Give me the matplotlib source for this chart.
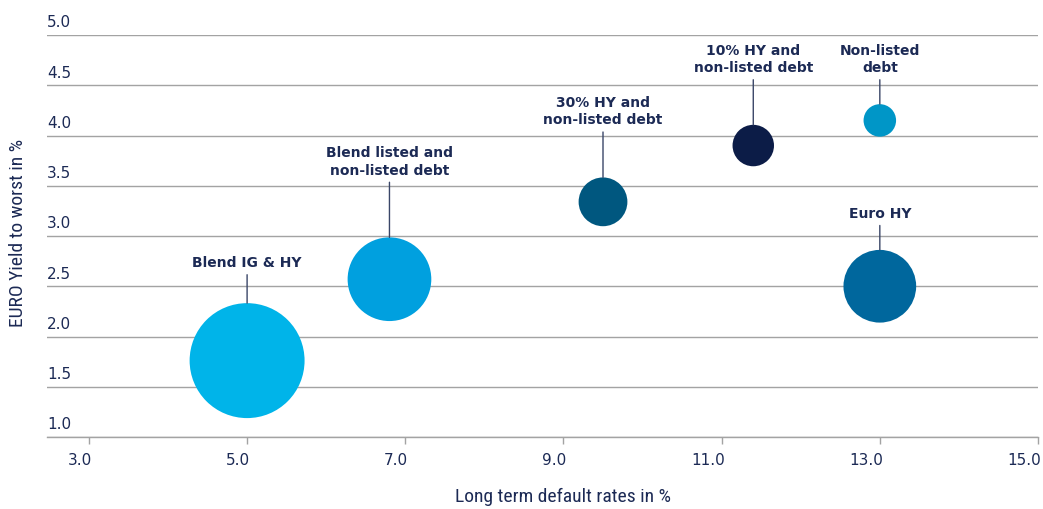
import matplotlib
matplotlib.use("Agg")
import matplotlib.pyplot as plt
from matplotlib.transforms import ScaledTranslation

# ---- data ----
names = ["Blend IG & HY", "Blend listed and\nnon-listed debt", "30% HY and\nnon-listed debt",
         "10% HY and\nnon-listed debt", "Non-listed\ndebt", "Euro HY"]
default_rate = [5.0, 6.8, 9.5, 11.4, 13.0, 13.0]
yield_to_worst = [1.76, 2.57, 3.34, 3.90, 4.15, 2.50]
bubble_weight = [100, 53, 18, 13, 8, 40]
label_y = [2.67, 3.59, 4.09, 4.61, 4.61, 3.16]
colors = ["#00b4e9", "#00a0df", "#00577f", "#0c1c47", "#0096c7", "#00679d"]
x_ticks = [3.0, 5.0, 7.0, 9.0, 11.0, 13.0, 15.0]
y_ticks = [1.0, 1.5, 2.0, 2.5, 3.0, 3.5, 4.0, 4.5, 5.0]

navy = "#1c2a55"
grid = "#a3a3a3"
size_scale = 68.5

fig = plt.figure(figsize=(10.43, 5.10), dpi=100)
ax = fig.add_axes([47/1043, 1 - 438/510, (1038-47)/1043, (438-36)/510])
ax.set_xlim(2.47, 15.0)
ax.set_ylim(1.0, 5.0)

for yv in y_ticks:
    ax.axhline(yv, color=grid, lw=1.0, zorder=0)
    ax.annotate(f"{yv:.1f}", (0, yv), xycoords=("axes fraction", "data"),
                xytext=(0, 4), textcoords="offset points", ha="left", va="bottom",
                fontsize=11, color=navy)

sizes = [w * size_scale for w in bubble_weight]
ax.scatter(default_rate, yield_to_worst, s=sizes, c=colors, linewidths=0, zorder=3)

for nm, xv, yv, ly, s in zip(names, default_rate, yield_to_worst, label_y, sizes):
    r_pt = (s ** 0.5) / 2
    ax.annotate(nm, xy=(xv, yv), xytext=(xv, ly), ha="center", va="bottom",
                fontsize=10, fontweight="bold", color=navy, linespacing=1.3,
                arrowprops=dict(arrowstyle="-", color="#3a4668", lw=1.0,
                                shrinkA=2, shrinkB=r_pt, relpos=(0.5, 0.0)),
                zorder=4)

for sp in ["top", "right", "left"]:
    ax.spines[sp].set_visible(False)
ax.spines["bottom"].set_color(grid)
ax.spines["bottom"].set_linewidth(1.0)
ax.set_yticks([])
ax.set_xticks(x_ticks)
ax.set_xticklabels([f"{t:.1f}" for t in x_ticks])
ax.tick_params(axis="x", colors=grid, length=5, width=1, labelcolor=navy,
               labelsize=11, pad=6)
shift = ScaledTranslation(3/100, 0, fig.dpi_scale_trans)
for lab in ax.get_xticklabels():
    lab.set_horizontalalignment("right")
    lab.set_transform(lab.get_transform() + shift)

cond = ["Roboto Condensed", "DejaVu Sans Condensed", "Liberation Sans Narrow", "Roboto", "DejaVu Sans"]
ax.set_xlabel("Long term default rates in %", fontsize=14, color=navy, family=cond,
              stretch="condensed")
ax.xaxis.set_label_coords((563-47)/991, -(497-438)/402)
ax.xaxis.label.set_va("center")
fig.text(18/1043, 1 - 233/510, "EURO Yield to worst in %", rotation=90, ha="center",
         va="center", fontsize=14, color=navy, family=cond, stretch="condensed")

fig.savefig("out.png", dpi=100)
